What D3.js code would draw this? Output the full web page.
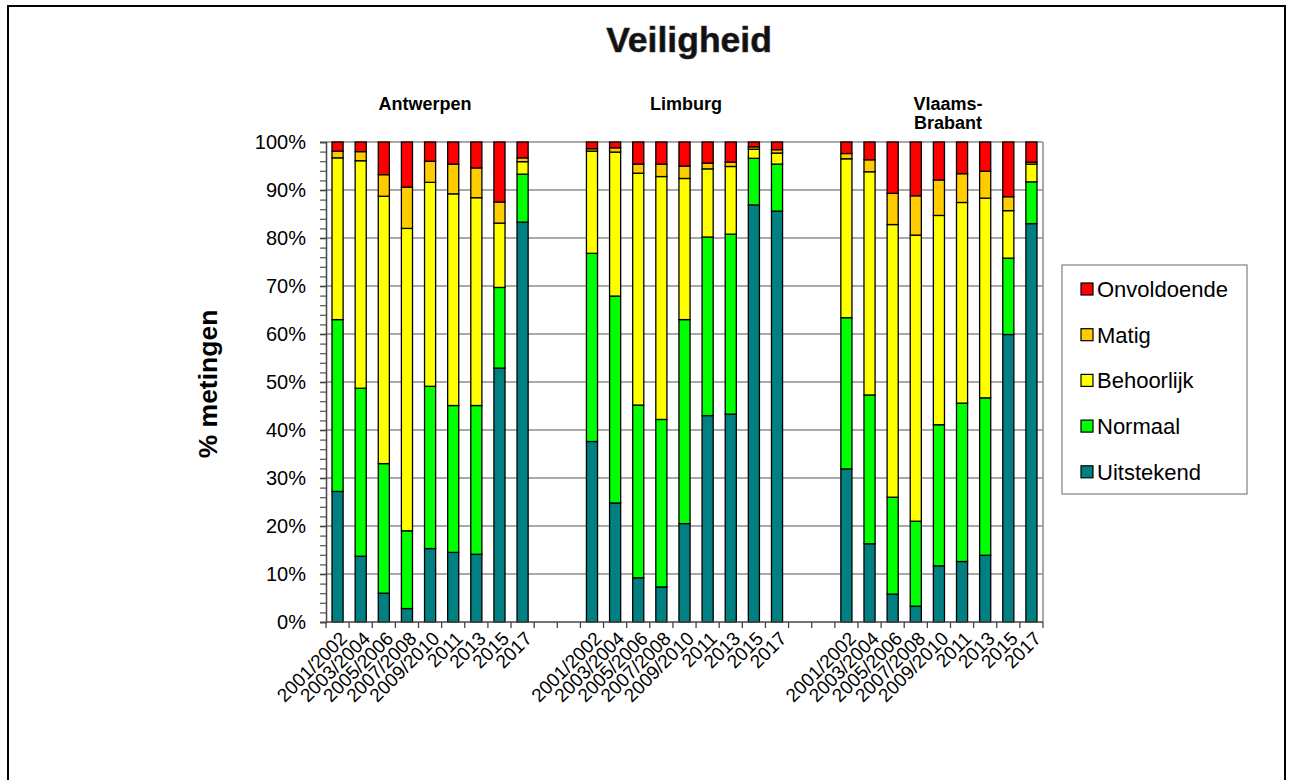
<!DOCTYPE html>
<html>
<head>
<meta charset="utf-8">
<script src="https://cdn.jsdelivr.net/npm/d3@7/dist/d3.min.js"></script>
<style>
  html, body { margin: 0; padding: 0; background: #fff; }
  svg { display: block; font-family: "Liberation Sans", Arial, sans-serif; }
</style>
</head>
<body>
<svg id="chart" width="1291" height="780"></svg>
<script>
// ---------------- data ----------------
const title = "Veiligheid";
const yLabel = "% metingen";
const regions = ["Antwerpen", "Limburg", "Vlaams-Brabant"];
const regionLabelLines = [["Antwerpen"], ["Limburg"], ["Vlaams-", "Brabant"]];
const periods = ["2001/2002", "2003/2004", "2005/2006", "2007/2008", "2009/2010", "2011", "2013", "2015", "2017"];
const seriesNames = ["Uitstekend", "Normaal", "Behoorlijk", "Matig", "Onvoldoende"];
// values per series, in the order Antwerpen (9), Limburg (9), Vlaams-Brabant (9)
const uitstekend  = [27.2, 13.7, 6.0, 2.8, 15.3, 14.5, 14.1, 52.9, 83.3,
                     37.6, 24.8, 9.2, 7.3, 20.5, 43.0, 43.3, 86.9, 85.6,
                     31.9, 16.3, 5.8, 3.3, 11.7, 12.6, 13.9, 59.9, 83.0];
const normaal     = [35.8, 35.0, 27.0, 16.2, 33.8, 30.6, 31.0, 16.8, 10.0,
                     39.2, 43.1, 36.0, 34.9, 42.5, 37.2, 37.5, 9.7, 9.8,
                     31.5, 31.0, 20.2, 17.7, 29.4, 33.0, 32.8, 15.9, 8.7];
const behoorlijk  = [33.7, 47.4, 55.7, 63.0, 42.5, 44.1, 43.3, 13.4, 2.6,
                     21.3, 30.0, 48.3, 50.6, 29.4, 14.2, 14.1, 1.9, 2.3,
                     33.1, 46.5, 56.8, 59.6, 43.6, 41.8, 41.6, 9.9, 3.7];
const matig       = [1.4, 1.9, 4.5, 8.6, 4.4, 6.2, 6.2, 4.4, 0.8,
                     0.5, 0.9, 1.9, 2.6, 2.6, 1.2, 0.9, 0.5, 0.7,
                     1.1, 2.5, 6.5, 8.2, 7.4, 6.0, 5.6, 2.9, 0.4];
const onvoldoende = [1.9, 2.0, 6.8, 9.4, 4.0, 4.6, 5.4, 12.5, 3.3,
                     1.4, 1.2, 4.6, 4.6, 5.0, 4.4, 4.2, 1.0, 1.6,
                     2.4, 3.7, 10.7, 11.2, 7.9, 6.6, 6.1, 11.4, 4.2];
const yTicks = [0, 10, 20, 30, 40, 50, 60, 70, 80, 90, 100];
const legendOrder = ["Onvoldoende", "Matig", "Behoorlijk", "Normaal", "Uitstekend"];

// ---------------- styling ----------------
const colors = {
  Uitstekend: "#008080", Normaal: "#00FF00", Behoorlijk: "#FFFF00",
  Matig: "#FFCC00", Onvoldoende: "#FF0000"
};
const seriesValues = [uitstekend, normaal, behoorlijk, matig, onvoldoende];

// build slot list (9 bars, 2 gaps, 9 bars, 2 gaps, 9 bars)
const slots = [];
const rows = [];
regions.forEach((r, ri) => {
  periods.forEach((p, pi) => {
    const key = r + "|" + p;
    slots.push(key);
    const row = { key, region: r, period: p };
    seriesNames.forEach((s, si) => row[s] = seriesValues[si][ri * periods.length + pi]);
    rows.push(row);
  });
  if (ri < regions.length - 1) { slots.push("gap" + ri + "a"); slots.push("gap" + ri + "b"); }
});

const svg = d3.select("#chart");
const plot = { left: 326, right: 1043, top: 142, bottom: 622 };

// outer frame
svg.append("rect").attr("x", 8).attr("y", 6).attr("width", 1277).attr("height", 800)
  .attr("fill", "#fff").attr("stroke", "#000").attr("stroke-width", 2);

const x = d3.scaleBand().domain(slots).range([plot.left, plot.right])
  .paddingInner(0.52).paddingOuter(0.26);
const y = d3.scaleLinear().domain([0, 100]).range([plot.bottom, plot.top]);

// gridlines
svg.append("g").selectAll("line").data(yTicks.filter(t => t > 0)).join("line")
  .attr("x1", plot.left).attr("x2", plot.right)
  .attr("y1", d => y(d)).attr("y2", d => y(d))
  .attr("stroke", "#8c8c8c").attr("stroke-width", 1.5);
// right border
svg.append("line").attr("x1", plot.right).attr("x2", plot.right)
  .attr("y1", plot.top).attr("y2", plot.bottom)
  .attr("stroke", "#8c8c8c").attr("stroke-width", 1.5);

// stacked bars
const stack = d3.stack().keys(seriesNames)(rows);
svg.append("g").selectAll("g").data(stack).join("g")
  .attr("fill", d => colors[d.key])
  .selectAll("rect").data(d => d).join("rect")
  .attr("x", d => x(d.data.key))
  .attr("width", x.bandwidth())
  .attr("y", d => y(d[1]))
  .attr("height", d => y(d[0]) - y(d[1]))
  .attr("stroke", "#000").attr("stroke-width", 1.3);

// y axis
const yAxisMinor = d3.axisLeft(y).tickValues(d3.range(0, 101, 2)).tickSize(6).tickFormat("");
svg.append("g").attr("transform", `translate(${plot.left},0)`).call(yAxisMinor)
  .call(g => g.select(".domain").remove())
  .call(g => g.selectAll("line").attr("stroke", "#555").attr("stroke-width", 1.2));
const yAxis = d3.axisLeft(y).tickValues(yTicks).tickSize(6).tickPadding(14).tickFormat(d => d + "%");
svg.append("g").attr("transform", `translate(${plot.left},0)`).call(yAxis)
  .call(g => g.select(".domain").attr("stroke", "#444").attr("stroke-width", 1.5))
  .call(g => g.selectAll("line").attr("stroke", "#444").attr("stroke-width", 1.5))
  .call(g => g.selectAll("text").attr("font-size", 20).attr("fill", "#000")
    .attr("font-family", "Liberation Sans, Arial, sans-serif"));

// x axis line and boundary ticks
svg.append("line").attr("x1", plot.left).attr("x2", plot.right)
  .attr("y1", plot.bottom).attr("y2", plot.bottom)
  .attr("stroke", "#444").attr("stroke-width", 1.5);
const boundaries = slots.map(s => x(s) - (x.step() - x.bandwidth()) / 2).concat([plot.right]);
svg.append("g").selectAll("line").data(boundaries).join("line")
  .attr("x1", d => d).attr("x2", d => d)
  .attr("y1", plot.bottom).attr("y2", plot.bottom + 6)
  .attr("stroke", "#444").attr("stroke-width", 1.3);

// x labels rotated
svg.append("g").selectAll("text").data(rows).join("text")
  .attr("transform", d => `translate(${x(d.key) + x.bandwidth() / 2 + 6},${plot.bottom + 13}) rotate(-45)`)
  .attr("text-anchor", "end").attr("dy", "0.35em")
  .attr("font-size", 19).attr("fill", "#000")
  .text(d => d.period);

// region labels
const regionLabelX = [425, 686, 948];
regionLabelLines.forEach((lines, i) => {
  const t = svg.append("text").attr("x", regionLabelX[i]).attr("y", 110)
    .attr("text-anchor", "middle").attr("font-weight", "bold").attr("font-size", 18);
  lines.forEach((l, li) => t.append("tspan").attr("x", regionLabelX[i]).attr("dy", li === 0 ? 0 : 19).text(l));
});

// title
svg.append("text").attr("x", 689).attr("y", 52).attr("text-anchor", "middle")
  .attr("font-weight", "bold").attr("font-size", 35.5).attr("fill", "#111")
  .attr("stroke", "#333").attr("stroke-width", 0.6)
  .text(title);

// y label
svg.append("text").attr("transform", `translate(217,${(plot.top + plot.bottom) / 2 + 2}) rotate(-90)`)
  .attr("text-anchor", "middle").attr("font-weight", "bold").attr("font-size", 26.5)
  .text(yLabel);

// legend
const lg = svg.append("g");
lg.append("rect").attr("x", 1062).attr("y", 265).attr("width", 185).attr("height", 229)
  .attr("fill", "#fff").attr("stroke", "#808080").attr("stroke-width", 1.2);
legendOrder.forEach((name, i) => {
  const cy = 289 + i * 45.7;
  lg.append("rect").attr("x", 1081).attr("y", cy - 6).attr("width", 12).attr("height", 12)
    .attr("fill", colors[name]).attr("stroke", "#000").attr("stroke-width", 1.2);
  lg.append("text").attr("x", 1097).attr("y", cy).attr("dy", "0.36em")
    .attr("font-size", 22).text(name);
});
</script>
</body>
</html>
